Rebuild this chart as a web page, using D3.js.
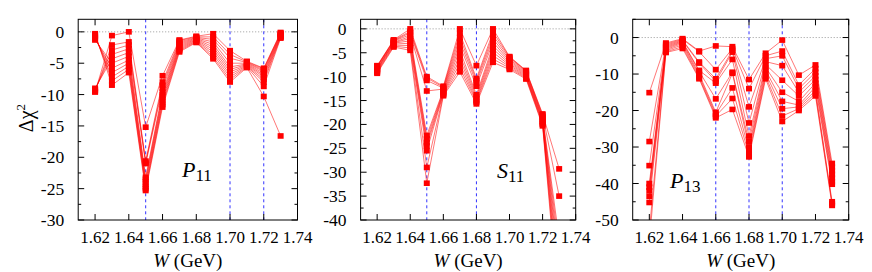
<!DOCTYPE html>
<html><head><meta charset="utf-8">
<script src="https://cdn.jsdelivr.net/npm/d3@7"></script>
<style>body{margin:0;background:#fff}svg{display:block}</style>
</head><body><svg id="c" width="872" height="272" font-family="'Liberation Serif', 'Times New Roman', Times, serif"></svg>
<script>
// W values (GeV)
const W = [1.62,1.63,1.64,1.65,1.66,1.67,1.68,1.69,1.70,1.71,1.72,1.73];
const xTicks = [1.62,1.64,1.66,1.68,1.70,1.72,1.74];

// Delta chi^2 at each W (one row per W, one column per curve)
const p11 = [
 [-0.3,-0.5,-0.7,-0.9,-1.1,-1.3,-9.0,-9.2,-9.3,-9.5,-9.6],
 [-8.5,-7.8,-7.2,-6.5,-5.8,-5.0,-4.3,-3.6,-2.9,-2.1,-0.6],
 [-6.5,-6.0,-5.5,-5.0,-4.5,-3.9,-3.3,-2.7,-2.1,-1.6,0.0],
 [-25.3,-25.0,-24.7,-24.3,-23.9,-23.5,-23.2,-21.0,-20.8,-20.6,-15.2],
 [-12.0,-11.6,-11.2,-10.8,-10.4,-10.0,-9.6,-9.0,-8.5,-8.0,-7.0],
 [-3.2,-3.0,-2.8,-2.6,-2.4,-2.2,-2.0,-1.8,-1.6,-1.4,-1.3],
 [-1.7,-1.6,-1.5,-1.4,-1.3,-1.2,-1.1,-1.0,-0.9,-0.8,-0.7],
 [-4.3,-4.0,-3.6,-3.2,-2.8,-2.4,-2.0,-1.6,-1.2,-0.8,-0.3],
 [-8.0,-7.6,-7.2,-6.8,-6.4,-6.0,-5.6,-5.0,-4.2,-3.6,-3.0],
 [-5.7,-5.6,-5.5,-5.4,-5.3,-5.2,-5.1,-5.0,-4.9,-4.8,-4.7],
 [-10.3,-8.7,-8.0,-7.6,-7.2,-6.9,-6.6,-6.3,-6.1,-5.9,-5.8],
 [-16.6,-1.0,-0.9,-0.8,-0.7,-0.6,-0.5,-0.4,-0.3,-0.2,-0.1]
];
const s11 = [
 [-9.3,-9.1,-8.9,-8.7,-8.5,-8.4,-8.2,-8.0,-7.9,-7.8,-7.7],
 [-3.8,-3.6,-3.4,-3.2,-3.0,-2.9,-2.8,-2.6,-2.5,-2.4,-2.3],
 [-4.5,-4.0,-3.5,-3.0,-2.5,-2.0,-1.6,-1.2,-0.8,-0.5,0.0],
 [-32.3,-29.0,-25.5,-24.5,-23.8,-23.0,-22.3,-13.0,-10.8,-10.3,-10.0],
 [-14.0,-13.8,-13.6,-13.4,-13.2,-13.0,-12.8,-12.6,-12.4,-12.2,-12.0],
 [-9.0,-8.2,-7.3,-6.4,-5.5,-4.5,-3.6,-2.7,-1.8,-0.9,0.0],
 [-15.7,-15.3,-15.0,-14.6,-14.2,-13.8,-12.0,-11.3,-10.8,-10.4,-7.7],
 [-7.0,-6.3,-5.6,-4.9,-4.2,-3.5,-2.8,-2.1,-1.4,-0.7,0.0],
 [-8.5,-8.2,-7.9,-7.6,-7.3,-7.0,-6.7,-6.4,-6.1,-5.9,-5.8],
 [-10.5,-10.3,-10.1,-9.9,-9.7,-9.5,-9.3,-9.1,-8.9,-8.8,-8.7],
 [-20.3,-20.0,-19.8,-19.5,-19.3,-19.0,-18.8,-18.5,-18.3,-18.0,-17.8],
 [-60,-58,-56,-54,-52,-50,-48,-46,-44,-35,-29.3]
];
const p13 = [
 [-15.1,-28.5,-35.1,-40.0,-41.0,-42.0,-43.5,-45.2,-53,-56],
 [-1.5,-1.8,-2.1,-2.4,-2.7,-3.0,-3.3,-3.6,-3.9,-4.1],
 [-0.3,-0.5,-0.7,-0.9,-1.1,-1.3,-1.6,-2.0,-2.5,-3.0],
 [-3.7,-3.9,-6.7,-7.0,-9.0,-9.3,-10.0,-10.5,-11.0,-11.3],
 [-2.3,-8.8,-11.3,-12.0,-12.5,-16.8,-20.5,-21.0,-21.5,-22.0],
 [-2.5,-3.0,-3.5,-4.0,-6.0,-9.5,-9.8,-13.8,-16.7,-19.7],
 [-11.5,-14.0,-19.0,-23.4,-27.0,-28.5,-30.0,-31.0,-32.0,-32.7],
 [-4.3,-5.0,-5.8,-6.6,-7.4,-8.2,-9.0,-9.8,-10.6,-11.3],
 [-0.7,-3.7,-5.0,-7.7,-11.7,-15.0,-17.5,-19.5,-21.5,-23.0],
 [-10.3,-13.0,-14.0,-15.0,-16.0,-17.5,-18.5,-19.0,-19.5,-20.0],
 [-7.5,-8.5,-9.5,-10.5,-11.5,-12.5,-13.5,-14.5,-15.3,-16.0],
 [-34.5,-35.5,-36.5,-37.5,-38.5,-39.5,-40.2,-45.0,-45.5,-46.0]
];
const panelNames = [["P","11"],["S","11"],["P","13"]];
const yDomains = [[-30,2],[-40,2],[-50,5]];
const yMajor = [5,5,10];
const yMinor = [2.5,2.5,5];
const markerLines = [[1.65,1.70,1.72],[1.65,1.68],[1.66,1.68,1.70]];
const panelData = [p11,s11,p13];

const FONT = "'Liberation Serif', 'Times New Roman', Times, serif";
const svg = d3.select("#c");
const boxes = [
 {l:78.2,r:297.5,t:19.3,b:220},
 {l:360.6,r:575.7,t:19.3,b:220},
 {l:632.7,r:848.7,t:19.3,b:220}
];
const labelPos = [[182,177],[497,178],[670,188]];

boxes.forEach((bx,pi)=>{
  const x = d3.scaleLinear().domain([1.61,1.74]).range([bx.l,bx.r]);
  const y = d3.scaleLinear().domain(yDomains[pi]).range([bx.b,bx.t]);
  const g = svg.append("g");
  const cid = "clip"+pi;
  svg.append("clipPath").attr("id",cid).append("rect")
    .attr("x",bx.l).attr("y",bx.t).attr("width",bx.r-bx.l).attr("height",bx.b-bx.t);

  g.append("line").attr("x1",bx.l).attr("x2",bx.r).attr("y1",y(0)).attr("y2",y(0))
    .attr("stroke","#999").attr("stroke-width",1).attr("stroke-dasharray","1,2");
  markerLines[pi].forEach(v=>{
    g.append("line").attr("x1",x(v)).attr("x2",x(v)).attr("y1",bx.t).attr("y2",bx.b)
      .attr("stroke","#3333ff").attr("stroke-width",1).attr("stroke-dasharray","3,3");
  });

  const rows = panelData[pi];
  const nS = rows[0].length;
  const series = d3.range(nS).map(j=>W.map((w,i)=>[w,rows[i][j]]));
  const line = d3.line().x(d=>x(d[0])).y(d=>y(d[1]));
  const dg = g.append("g").attr("clip-path",`url(#${cid})`);
  series.forEach(s=>{
    dg.append("path").attr("d",line(s)).attr("fill","none")
      .attr("stroke","#ff0000").attr("stroke-opacity",0.6).attr("stroke-width",0.9);
  });
  series.forEach(s=>{
    dg.selectAll(null).data(s).enter().append("rect")
      .attr("x",d=>x(d[0])-3).attr("y",d=>y(d[1])-2.8)
      .attr("width",6).attr("height",5.6).attr("fill","#ff0000");
  });

  const [y0,y1] = yDomains[pi];
  const majors = d3.range(Math.ceil(y0/yMajor[pi])*yMajor[pi], y1+0.001, yMajor[pi]);
  const minors = d3.range(Math.ceil(y0/yMinor[pi])*yMinor[pi], y1+0.001, yMinor[pi]).filter(v=>Math.abs(v/yMajor[pi]-Math.round(v/yMajor[pi]))>1e-6);
  const ax = g.append("g");
  const tk = (x1,y1_,x2,y2)=>ax.append("line").attr("x1",x1).attr("y1",y1_).attr("x2",x2).attr("y2",y2).attr("stroke","#000").attr("stroke-width",1);
  majors.forEach(v=>{ tk(bx.l,y(v),bx.l+6,y(v)); tk(bx.r,y(v),bx.r-6,y(v));
    ax.append("text").attr("x",bx.l-14).attr("y",y(v)+6).attr("text-anchor","end")
      .attr("font-family",FONT).attr("font-size",17.5).text(v); });
  minors.forEach(v=>{ tk(bx.l,y(v),bx.l+3,y(v)); tk(bx.r,y(v),bx.r-3,y(v)); });
  xTicks.forEach(v=>{ tk(x(v),bx.b,x(v),bx.b-6); tk(x(v),bx.t,x(v),bx.t+6);
    ax.append("text").attr("x",x(v)).attr("y",bx.b+23).attr("text-anchor","middle")
      .attr("font-family",FONT).attr("font-size",17).text(v.toFixed(2)); });
  ax.append("rect").attr("x",bx.l).attr("y",bx.t).attr("width",bx.r-bx.l).attr("height",bx.b-bx.t)
    .attr("fill","none").attr("stroke","#000").attr("stroke-width",1);

  const xl = g.append("text").attr("x",(bx.l+bx.r)/2).attr("y",267).attr("text-anchor","middle")
    .attr("font-family",FONT).attr("font-size",19);
  xl.append("tspan").attr("font-style","italic").text("W");
  xl.append("tspan").text(" (GeV)");

  const pl = g.append("text").attr("x",labelPos[pi][0]).attr("y",labelPos[pi][1])
    .attr("font-family",FONT).attr("font-size",22);
  pl.append("tspan").attr("font-style","italic").text(panelNames[pi][0]);
  pl.append("tspan").attr("font-size",17).attr("dy",4).text(panelNames[pi][1]);
});

const yl = svg.append("text").attr("transform","translate(33,118) rotate(-90)").attr("text-anchor","middle")
  .attr("font-family",FONT).attr("font-size",20);
yl.append("tspan").text("Δχ");
yl.append("tspan").attr("font-size",13).attr("dy",-8).text("2");
</script></body></html>
